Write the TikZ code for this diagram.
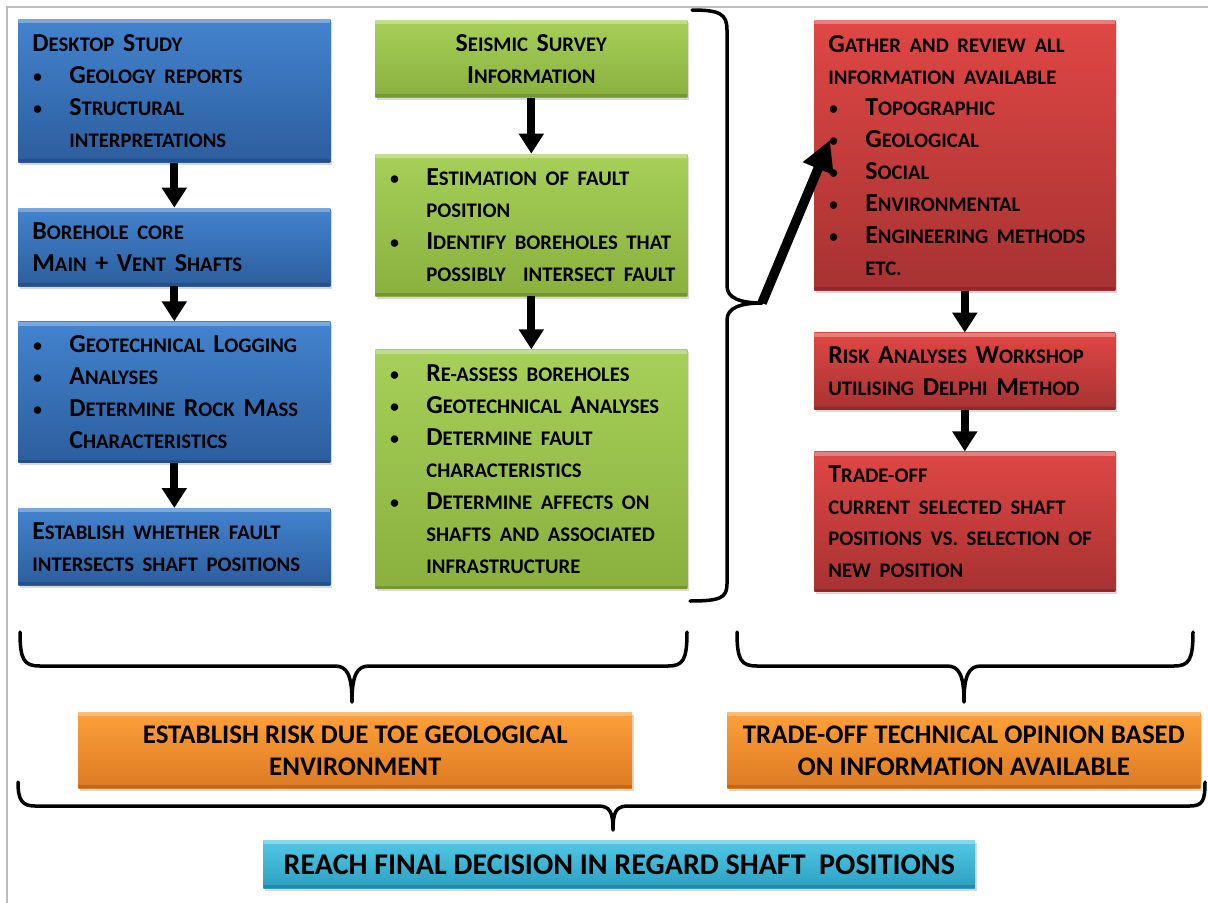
\documentclass[tikz,border=0pt]{standalone}
\usepackage{fontspec}
\setmainfont{Carlito}
\usetikzlibrary{positioning,arrows.meta,shadows,calc}

\definecolor{bluetop}{HTML}{4383CE}
\definecolor{bluebot}{HTML}{2C5E9E}
\definecolor{greentop}{HTML}{A6D05A}
\definecolor{greenbot}{HTML}{8AB03E}
\definecolor{redtop}{HTML}{DF4744}
\definecolor{redbot}{HTML}{A73232}
\definecolor{orangetop}{HTML}{FDA03A}
\definecolor{orangebot}{HTML}{DC7A22}
\definecolor{cyantop}{HTML}{52C8E6}
\definecolor{cyanbot}{HTML}{2C9FC0}
\definecolor{framegray}{HTML}{BDBDBD}

% fake small caps, bullet items
\newcommand\smc[1]{{\fontsize{11.8}{18.14}\selectfont\MakeUppercase{#1}}}
\newcommand\bul{{\mdseries\fontsize{12}{12}\selectfont\textbullet}}
\newcommand\itm[1]{\makebox[0.74cm][l]{\bul}\mbox{#1}}
\newcommand\cont[1]{\hspace*{0.74cm}\mbox{#1}}

\tikzset{
  stepbox/.style={anchor=north west, inner xsep=0.28cm, inner ysep=0pt, align=left,
    font=\bfseries\fontsize{14.74}{18.14}\selectfont,
    drop shadow={shadow xshift=0.04cm, shadow yshift=-0.05cm, opacity=0.3},
    path picture={
      \fill[white, opacity=0.3] (path picture bounding box.north west)
        rectangle ([yshift=-0.08cm]path picture bounding box.north east);
      \fill[black, opacity=0.15] (path picture bounding box.south west)
        rectangle ([yshift=0.06cm]path picture bounding box.south east);
    }},
  bluebox/.style={stepbox, top color=bluetop, bottom color=bluebot, text width=5.68cm},
  greenbox/.style={stepbox, top color=greentop, bottom color=greenbot, text width=5.68cm},
  redbox/.style={stepbox, top color=redtop, bottom color=redbot, text width=5.46cm},
  orangebox/.style={stepbox, top color=orangetop, bottom color=orangebot, align=center,
    minimum height=1.52cm, font=\bfseries\fontsize{15.3}{18.14}\selectfont},
  cyanbox/.style={stepbox, top color=cyantop, bottom color=cyanbot, align=center,
    minimum height=0.96cm, font=\bfseries\fontsize{17.1}{20}\selectfont},
  flowarrow/.style={line width=0.16cm, -{Triangle[width=0.48cm,length=0.4cm]}},
  bigarrow/.style={line width=0.19cm, -{Triangle[width=0.62cm,length=0.62cm]}},
  bracket/.style={line width=0.07cm, line join=round, line cap=round}
}

\begin{document}
\begin{tikzpicture}[x=0.02cm, y=-0.02cm]
  \useasboundingbox (0,0) rectangle (1208,903);
  \draw[framegray, line width=0.04cm] (7,7) rectangle (1240,940);

  % desktop column
  \node[bluebox, minimum height=2.86cm] (desk) at (18,19)
    {D\smc{esktop} S\smc{tudy}\\
     \itm{G\smc{eology reports}}\\
     \itm{S\smc{tructural}}\\
     \cont{\smc{interpretations}}};
  \node[bluebox, minimum height=1.56cm, below=0.9cm of desk] (core)
    {B\smc{orehole core}\\
     M\smc{ain} + V\smc{ent} S\smc{hafts}};
  \node[bluebox, minimum height=2.82cm, below=0.7cm of core] (logging)
    {\itm{G\smc{eotechnical} L\smc{ogging}}\\
     \itm{A\smc{nalyses}}\\
     \itm{D\smc{etermine} R\smc{ock} M\smc{ass}}\\
     \cont{C\smc{haracteristics}}};
  \node[bluebox, minimum height=1.54cm, below=0.9cm of logging] (whether)
    {E\smc{stablish whether fault}\\
     \smc{intersects shaft positions}};

  % seismic column
  \node[greenbox, minimum height=1.54cm, align=center] (seismic) at (375,20)
    {S\smc{eismic} S\smc{urvey}\\
     I\smc{nformation}};
  \node[greenbox, minimum height=2.84cm, below=1.12cm of seismic] (estimate)
    {\itm{E\smc{stimation of fault}}\\
     \cont{\smc{position}}\\
     \itm{I\smc{dentify boreholes that}}\\
     \cont{\smc{possibly\ \ intersect fault}}};
  \node[greenbox, minimum height=4.78cm, below=1.06cm of estimate] (reassess)
    {\itm{R\smc{e-assess boreholes}}\\
     \itm{G\smc{eotechnical} A\smc{nalyses}}\\
     \itm{D\smc{etermine fault}}\\
     \cont{\smc{characteristics}}\\
     \itm{D\smc{etermine affects on}}\\
     \cont{\smc{shafts and associated}}\\
     \cont{\smc{infrastructure}}};

  % review column
  \node[redbox, minimum height=5.4cm] (gather) at (814,20)
    {G\smc{ather and review all}\\
     \smc{information available}\\
     \itm{T\smc{opographic}}\\
     \itm{G\smc{eological}}\\
     \itm{S\smc{ocial}}\\
     \itm{E\smc{nvironmental}}\\
     \itm{E\smc{ngineering methods}}\\
     \cont{\smc{etc.}}};
  \node[redbox, minimum height=1.54cm, below=0.84cm of gather] (delphi)
    {R\smc{isk} A\smc{nalyses} W\smc{orkshop}\\
     \smc{utilising} D\smc{elphi} M\smc{ethod}};
  \node[redbox, minimum height=2.8cm, below=0.82cm of delphi] (tradeoff)
    {T\smc{rade-off}\\
     \smc{current selected shaft}\\
     \smc{positions vs. selection of}\\
     \smc{new position}};

  % outcomes
  \node[orangebox, minimum width=11.08cm] (georisk) at (78,712)
    {ESTABLISH RISK DUE TOE GEOLOGICAL\\ENVIRONMENT};
  \node[orangebox, minimum width=9.46cm] (opinion) at (727,712)
    {TRADE-OFF TECHNICAL OPINION BASED\\ON INFORMATION AVAILABLE};
  \node[cyanbox, minimum width=14.24cm] (final) at (263,840)
    {REACH FINAL DECISION IN REGARD SHAFT\ \ POSITIONS};

  % arrows
  \draw[flowarrow] (desk) -- (core);
  \draw[flowarrow] (core) -- (logging);
  \draw[flowarrow] (logging) -- (whether);
  \draw[flowarrow] (seismic) -- (estimate);
  \draw[flowarrow] (estimate) -- (reassess);
  \draw[flowarrow] (gather) -- (delphi);
  \draw[flowarrow] (delphi) -- (tradeoff);

  % braces
  \coordinate (btip) at (762,303);
  \draw[bracket] (692,10) .. controls (720,10) and (727,14) .. (727,30) -- (727,286)
    .. controls (727,298) and (740,303) .. (btip)
    .. controls (740,303) and (727,308) .. (727,320) -- (727,584)
    .. controls (727,598) and (720,601) .. (690,601);
  \coordinate (gathtip) at ($(gather.north west)+(16,120)$);
  \draw[bigarrow] (btip) -- (gathtip);

  \draw[bracket] (20,632) .. controls (20,660) and (24,666) .. (40,666) -- (335,666)
    .. controls (347,666) and (352,675) .. (352,702)
    .. controls (352,675) and (357,666) .. (369,666) -- (668,666)
    .. controls (683,666) and (687,660) .. (687,632);
  \draw[bracket] (737,632) .. controls (737,660) and (741,666) .. (757,666) -- (947,666)
    .. controls (959,666) and (964,675) .. (964,702)
    .. controls (964,675) and (969,666) .. (981,666) -- (1174,666)
    .. controls (1189,666) and (1193,660) .. (1193,632);
  \draw[bracket] (18,782) .. controls (18,800) and (22,806) .. (35,806) -- (598,806)
    .. controls (610,806) and (613,812) .. (613,830)
    .. controls (613,812) and (616,806) .. (628,806) -- (1190,806)
    .. controls (1203,806) and (1205,800) .. (1205,782);
\end{tikzpicture}
\end{document}
